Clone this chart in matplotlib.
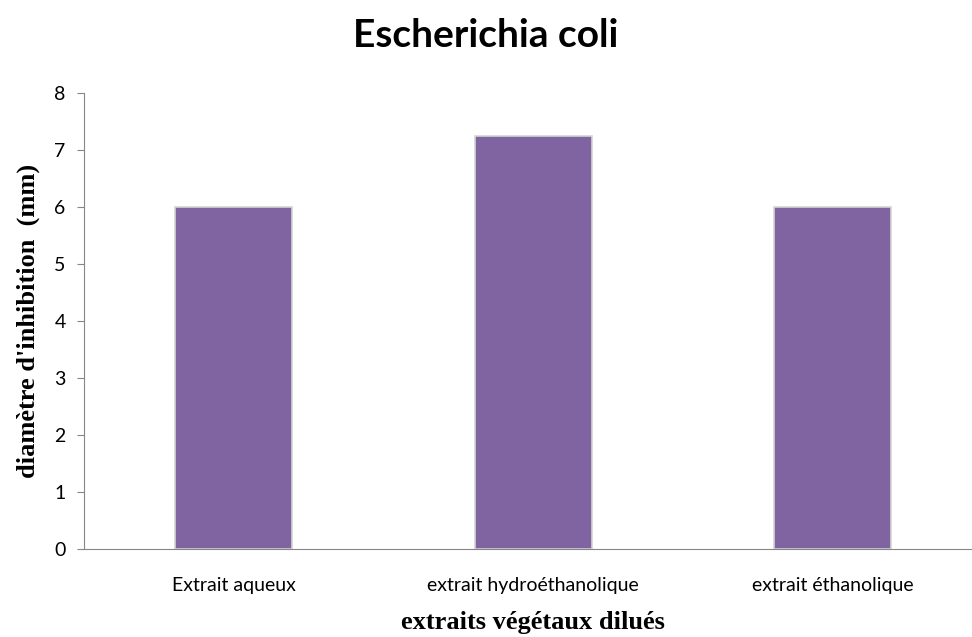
import matplotlib.pyplot as plt

categories = ["Extrait aqueux", "extrait hydroéthanolique", "extrait éthanolique"]
values = [6.0, 7.25, 6.0]

fig = plt.figure(figsize=(9.72, 6.37), dpi=100)
ax = fig.add_axes([0.086, 0.138, 0.925, 0.716])

x = range(len(categories))
ax.bar(x, values, width=0.39, color='#8064A2', edgecolor='#d4d4d4', linewidth=1.2, zorder=2)

ax.set_xlim(-0.5, 2.5)
ax.set_ylim(0, 8)
ax.set_yticks(range(0, 9))
ax.set_xticks(list(x))
ax.set_xticklabels(categories, fontfamily='Lato', fontsize=14)
for lab in ax.get_yticklabels():
    lab.set_fontfamily('Lato')
    lab.set_fontsize(14)

ax.tick_params(axis='x', length=0, pad=20)
ax.tick_params(axis='y', length=5, color='#868686', pad=8)
ax.spines['top'].set_visible(False)
ax.spines['right'].set_visible(False)
ax.spines['left'].set_color('#868686')
ax.spines['bottom'].set_color('#868686')

fig.text(0.5, 0.926, 'Escherichia coli', fontfamily='Lato', fontweight='bold',
         fontsize=28, ha='center', va='baseline')
ax.set_xlabel('extraits végétaux dilués', fontfamily='Liberation Serif',
              fontweight='bold', fontsize=19, labelpad=12)
ax.set_ylabel("diamètre d'inhibition  (mm)", fontfamily='Liberation Serif',
              fontweight='bold', fontsize=19, labelpad=10)

fig.savefig('out.png', dpi=100)
